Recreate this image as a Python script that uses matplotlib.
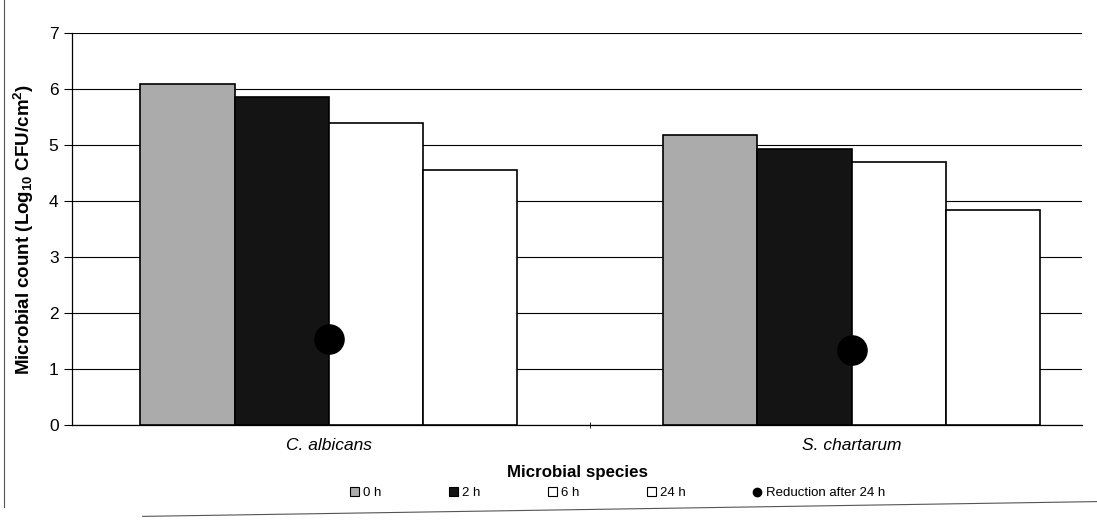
import numpy as np
import matplotlib
matplotlib.use("Agg")
import matplotlib.pyplot as plt
from matplotlib.lines import Line2D

plt.rcParams['font.family'] = ['Liberation Sans', 'DejaVu Sans']
plt.rcParams['mathtext.fontset'] = 'custom'
plt.rcParams['mathtext.rm'] = 'Liberation Sans:bold'
plt.rcParams['mathtext.default'] = 'rm'

species = ["C. albicans", "S. chartarum"]
times = ["0 h", "2 h", "6 h", "24 h"]
counts_0h = [6.1, 5.18]
counts_2h = [5.87, 4.93]
counts_6h = [5.4, 4.7]
counts_24h = [4.56, 3.84]
reduction = [1.54, 1.34]

fills = ['#ababab', '#141414', 'white', 'white']

fig = plt.figure(figsize=(10.97, 5.28), dpi=100)
ax = fig.add_axes([0.066, 0.195, 0.92, 0.742])

x = np.arange(len(species))
w = 0.18
series = [counts_0h, counts_2h, counts_6h, counts_24h]
for i, vals in enumerate(series):
    ax.bar(x + (i - 1.5) * w, vals, w, color=fills[i], edgecolor='black',
           linewidth=1.2, label=times[i], zorder=3)
ax.plot(x, reduction, 'o', color='black', markersize=21, linestyle='none',
        label='Reduction after 24 h', zorder=4)

ax.set_ylim(0, 7)
ax.set_xlim(-0.49, 1.44)
ax.set_yticks(range(0, 8))
ax.yaxis.grid(True, color='black', linewidth=0.8)
ax.set_axisbelow(True)
ax.set_xticks(x)
ax.set_xticklabels(species, style='italic', fontsize=12.5)
ax.set_xticks([0.5], minor=True)
ax.tick_params(axis='x', which='major', length=0, pad=9)
ax.tick_params(axis='x', which='minor', length=5, direction='inout')
ax.tick_params(axis='y', labelsize=12.5, length=6, pad=4)
for s in ['top', 'right']:
    ax.spines[s].set_visible(False)
ax.spines['left'].set_linewidth(0.9)
ax.spines['bottom'].set_linewidth(0.9)

ax.set_ylabel(r'Microbial count (Log$_{10}$ CFU/cm$^{2}$)', fontsize=13.5,
              fontweight='bold', labelpad=9)
ax.set_xlabel('Microbial species', fontsize=12.2, fontweight='bold', labelpad=9)

handles = [plt.Rectangle((0, 0), 1, 1, facecolor=fills[i], edgecolor='black',
                         linewidth=0.8) for i in range(4)]
handles.append(Line2D([], [], marker='o', color='black', linestyle='none',
                      markersize=6))
labels = times + ['Reduction after 24 h']
fig.legend(handles, labels, loc='center', bbox_to_anchor=(0.563, 0.066), ncol=5,
           fontsize=9.5, frameon=False, handlelength=0.7, handleheight=0.7,
           handletextpad=0.3, columnspacing=5.1)

# scanned page border fragments
fig.add_artist(Line2D([0.004, 0.004], [0.04, 1.0], color='#555555', linewidth=0.8))
fig.add_artist(Line2D([0.13, 1.0], [0.022, 0.05], color='#555555', linewidth=0.8))

fig.savefig("out.png", dpi=100)
